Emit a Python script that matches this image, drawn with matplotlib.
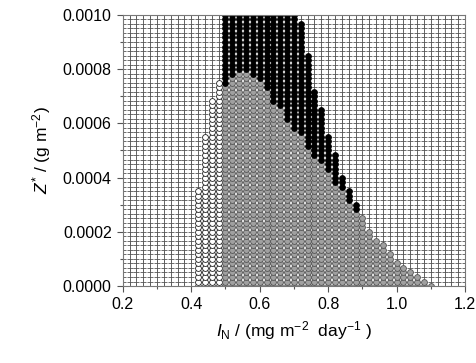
import numpy as np
import matplotlib.pyplot as plt
from matplotlib.ticker import MultipleLocator

plt.rcParams['font.family'] = ['Liberation Sans', 'DejaVu Sans']
plt.rcParams['mathtext.fontset'] = 'custom'
plt.rcParams['mathtext.rm'] = 'Liberation Sans'
plt.rcParams['mathtext.it'] = 'Liberation Sans:italic'

# ===== DATA =====
# sampling grid of the parameter scan
grid_x = np.round(np.arange(0.20, 1.2001, 0.02), 2)
grid_y = np.linspace(0.0, 0.001, 61)

# white region (columns and upper edge)
white_x = [0.42, 0.44, 0.46, 0.48]
white_top = [0.00036, 0.00056, 0.00069, 0.00075]

# grey region (columns and upper edge)
gray_x = [0.50, 0.52, 0.54, 0.56, 0.58, 0.60, 0.62, 0.64, 0.66, 0.68,
          0.70, 0.72, 0.74, 0.76, 0.78, 0.80, 0.82, 0.84, 0.86, 0.88,
          0.90, 0.92, 0.94, 0.96, 0.98, 1.00, 1.02, 1.04, 1.06, 1.08, 1.10]
gray_top = [0.00074, 0.00077, 0.00079, 0.00079, 0.00077, 0.00075, 0.00072, 0.00068, 0.00065, 0.00061,
            0.00058, 0.00055, 0.00051, 0.00048, 0.00045, 0.00042, 0.00037, 0.00035, 0.00031, 0.00027,
            0.00025, 0.00021, 0.00018, 0.00015, 0.00013, 0.00009, 0.00007, 0.00005, 0.00004, 0.00002, 0.00001]

# black region (above grey, up to this edge)
black_x = [0.50, 0.52, 0.54, 0.56, 0.58, 0.60, 0.62, 0.64, 0.66, 0.68,
           0.70, 0.72, 0.74, 0.76, 0.78, 0.80, 0.82, 0.84, 0.86, 0.88]
black_top = [0.00100, 0.00100, 0.00100, 0.00100, 0.00100, 0.00100, 0.00100, 0.00100, 0.00100, 0.00100,
             0.00100, 0.00097, 0.00085, 0.00073, 0.00065, 0.00055, 0.00049, 0.00041, 0.00035, 0.00031]

# ===== CLASSIFY GRID POINTS =====
gray_lookup = dict(zip(gray_x, gray_top))
wx, wy, gx, gy, bx, by = [], [], [], [], [], []
for xv, top in zip(white_x, white_top):
    for yv in grid_y:
        if yv <= top + 1e-9:
            wx.append(xv); wy.append(yv)
for xv, top in zip(gray_x, gray_top):
    for yv in grid_y:
        if yv <= top + 1e-9:
            gx.append(xv); gy.append(yv)
for xv, top in zip(black_x, black_top):
    low = gray_lookup.get(xv, 0.0)
    for yv in grid_y:
        if low + 1e-9 < yv <= top + 1e-9:
            bx.append(xv); by.append(yv)

XX, YY = np.meshgrid(grid_x, grid_y)

# ===== PLOT =====
fig = plt.figure(figsize=(4.76, 3.63), dpi=100)
ax = fig.add_axes([0.258, 0.212, 0.719, 0.747])

ax.plot(XX.ravel(), YY.ravel(), linestyle='none', marker='+', markersize=4.5,
        markeredgewidth=0.6, color='#555555', zorder=1)
ax.plot(wx, wy, linestyle='none', marker='o', markersize=4.2, markerfacecolor='white',
        markeredgecolor='#222222', markeredgewidth=0.6, zorder=2)
ax.plot(gx, gy, linestyle='none', marker='o', markersize=4.2, markerfacecolor='#a0a0a0',
        markeredgecolor='#555555', markeredgewidth=0.6, zorder=2)
ax.plot(bx, by, linestyle='none', marker='o', markersize=4.2, markerfacecolor='black',
        markeredgecolor='black', markeredgewidth=0.6, zorder=2)

ax.set_xlim(0.2, 1.2)
ax.set_ylim(0.0, 0.001)
ax.xaxis.set_major_locator(MultipleLocator(0.2))
ax.xaxis.set_minor_locator(MultipleLocator(0.1))
ax.yaxis.set_major_locator(MultipleLocator(0.0002))
ax.yaxis.set_minor_locator(MultipleLocator(0.0001))
ax.xaxis.set_major_formatter(plt.FuncFormatter(lambda v, p: f'{v:.1f}'))
ax.yaxis.set_major_formatter(plt.FuncFormatter(lambda v, p: f'{v:.4f}'))
ax.tick_params(which='major', direction='out', length=4, width=0.8, color='#555555',
               labelsize=11.5, pad=4)
ax.tick_params(which='minor', direction='out', length=2, width=0.8, color='#555555')
for s in ax.spines.values():
    s.set_color('#777777')
    s.set_linewidth(0.8)

ax.set_xlabel(r'$\mathit{I}_{\mathrm{N}}$ / (mg m$^{-2}$  day$^{-1}$ )', fontsize=12.5, labelpad=5)
ax.set_ylabel(r'$\mathit{Z}^{*}$ / (g m$^{-2}$)', fontsize=12.5, labelpad=7)

plt.savefig('out.png', dpi=100)
